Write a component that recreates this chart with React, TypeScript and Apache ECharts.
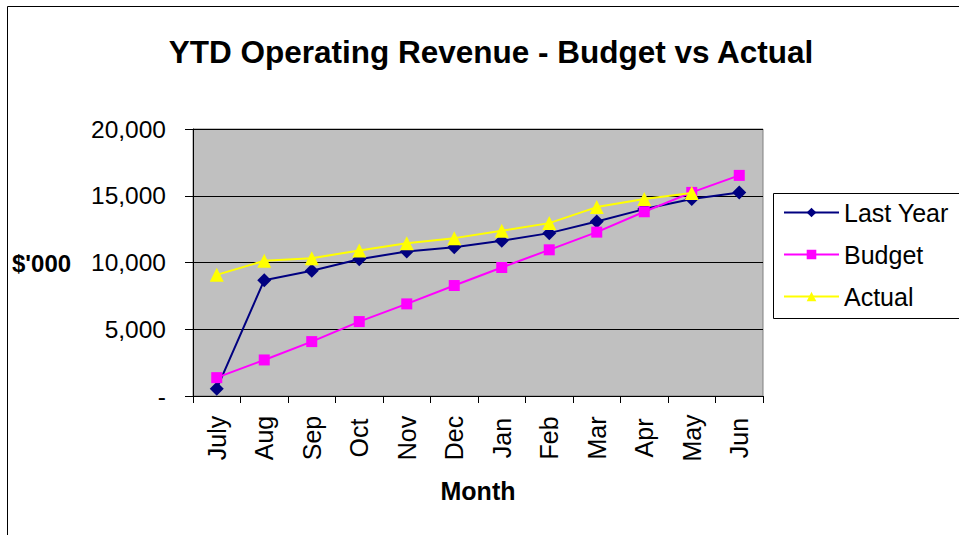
import React, { useEffect, useRef } from "react";
import * as echarts from "echarts";

const months = ["July", "Aug", "Sep", "Oct", "Nov", "Dec", "Jan", "Feb", "Mar", "Apr", "May", "Jun"];
const lastYear = [550, 8675, 9375, 10250, 10825, 11150, 11625, 12200, 13075, 14000, 14750, 15250];
const budget = [1375, 2700, 4075, 5575, 6900, 8275, 9625, 10950, 12275, 13800, 15250, 16525];
const actual = [9075, 10125, 10325, 10900, 11450, 11825, 12375, 12950, 14150, 14750, 15200, null];
const yTicks = { min: 0, max: 20000, interval: 5000 };

const FONT = "Liberation Sans, Arial, sans-serif";

export default function App() {
  const ref = useRef<HTMLDivElement>(null);
  useEffect(() => {
    const chart = echarts.init(ref.current!, undefined, { renderer: "svg" });
    chart.setOption({
      animation: false,
      backgroundColor: "#ffffff",
      textStyle: { fontFamily: FONT },
      title: {
        text: "YTD Operating Revenue - Budget vs Actual",
        left: 486,
        top: 31,
        textAlign: "center",
        textStyle: { fontFamily: FONT, fontSize: 31.5, fontWeight: "bold", color: "#000" },
      },
      graphic: [
        {
          type: "rect",
          shape: { x: 7.5, y: 6.5, width: 1000, height: 600 },
          style: { fill: "none", stroke: "#000", lineWidth: 1 },
          silent: true,
          z: -10,
        },
        {
          type: "rect",
          shape: { x: 773.5, y: 193.5, width: 300, height: 125 },
          style: { fill: "#fff", stroke: "#000", lineWidth: 1 },
          silent: true,
          z: 0,
        },
        {
          type: "text",
          x: 12,
          y: 263,
          style: {
            text: "$'000",
            fontFamily: FONT,
            fontSize: 24,
            fontWeight: "bold",
            fill: "#000",
            verticalAlign: "middle",
          },
          z: 10,
        },
      ],
      legend: {
        left: 783,
        top: 200,
        padding: 0,
        orient: "vertical",
        itemWidth: 55,
        itemHeight: 12,
        itemGap: 17,
        textStyle: { fontFamily: FONT, fontSize: 25, lineHeight: 25, color: "#000" },
        data: ["Last Year", "Budget", "Actual"],
        z: 5,
      },
      grid: {
        left: 193,
        right: 196,
        top: 129,
        bottom: 139,
        show: true,
        backgroundColor: "#C0C0C0",
        borderColor: "#808080",
        borderWidth: 1,
      },
      xAxis: {
        type: "category",
        data: months,
        boundaryGap: true,
        axisLine: { lineStyle: { color: "#000", width: 1 } },
        axisTick: { show: true, length: 7, lineStyle: { color: "#000" }, alignWithLabel: false },
        axisLabel: {
          rotate: 90,
          align: "center",
          margin: 42,
          fontFamily: FONT,
          fontSize: 25,
          color: "#000",
          interval: 0,
        },
        name: "Month",
        nameLocation: "middle",
        nameGap: 82,
        nameTextStyle: { fontFamily: FONT, fontSize: 25, fontWeight: "bold", color: "#000" },
      },
      yAxis: {
        type: "value",
        min: yTicks.min,
        max: yTicks.max,
        interval: yTicks.interval,
        axisLine: { show: true, lineStyle: { color: "#000", width: 1 } },
        axisTick: { show: true, inside: false, length: 8, lineStyle: { color: "#000" } },
        splitLine: { show: true, lineStyle: { color: "#000", width: 1 } },
        axisLabel: {
          margin: 27,
          fontFamily: FONT,
          fontSize: 24.5,
          color: "#000",
          formatter: (v: number) => (v === 0 ? "-" : v.toLocaleString("en-US")),
        },
      },
      series: [
        {
          name: "Last Year",
          type: "line",
          data: lastYear,
          symbol: "diamond",
          symbolSize: 14,
          color: "#000080",
          lineStyle: { color: "#000080", width: 2 },
          itemStyle: { color: "#000080" },
          z: 3,
        },
        {
          name: "Budget",
          type: "line",
          data: budget,
          symbol: "rect",
          symbolSize: 11,
          color: "#FF00FF",
          lineStyle: { color: "#FF00FF", width: 2 },
          itemStyle: { color: "#FF00FF" },
          z: 4,
        },
        {
          name: "Actual",
          type: "line",
          data: actual,
          symbol: "triangle",
          symbolSize: 14,
          color: "#FFFF00",
          lineStyle: { color: "#FFFF00", width: 2 },
          itemStyle: { color: "#FFFF00" },
          z: 5,
        },
      ],
    });
    return () => chart.dispose();
  }, []);
  return <div ref={ref} style={{ width: 959, height: 535, position: "absolute", left: 0, top: 0 }} />;
}
